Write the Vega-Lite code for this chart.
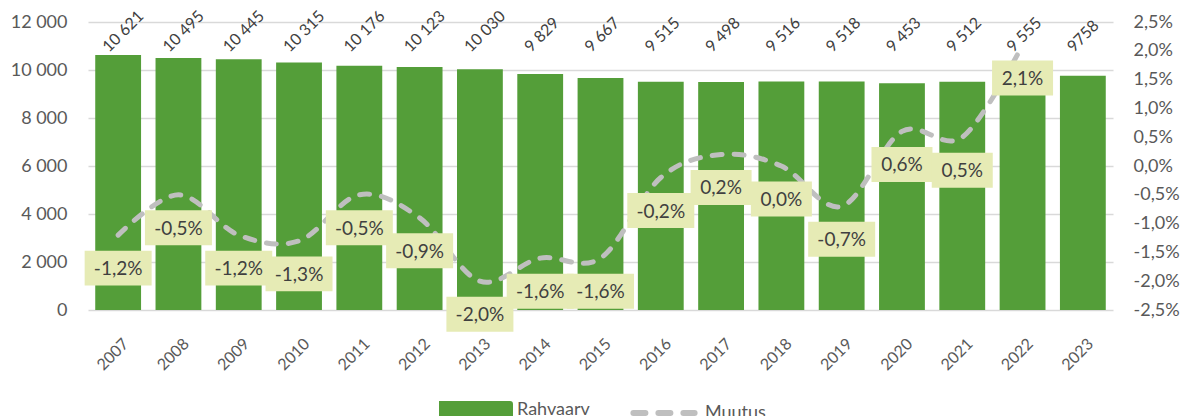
{
  "$schema": "https://vega.github.io/schema/vega-lite/v6.json",
  "width": 1025,
  "height": 288,
  "autosize": {"type": "none"},
  "padding": {"left": 88, "top": 22, "right": 76, "bottom": 106},
  "data": {
    "values": [
      {"year": "2007", "pop": 10621, "popLabel": "10 621", "change": -1.2, "chgLabel": "-1,2%"},
      {"year": "2008", "pop": 10495, "popLabel": "10 495", "change": -0.5, "chgLabel": "-0,5%"},
      {"year": "2009", "pop": 10445, "popLabel": "10 445", "change": -1.2, "chgLabel": "-1,2%"},
      {"year": "2010", "pop": 10315, "popLabel": "10 315", "change": -1.3, "chgLabel": "-1,3%"},
      {"year": "2011", "pop": 10176, "popLabel": "10 176", "change": -0.5, "chgLabel": "-0,5%"},
      {"year": "2012", "pop": 10123, "popLabel": "10 123", "change": -0.9, "chgLabel": "-0,9%"},
      {"year": "2013", "pop": 10030, "popLabel": "10 030", "change": -2.0, "chgLabel": "-2,0%"},
      {"year": "2014", "pop": 9829, "popLabel": "9 829", "change": -1.6, "chgLabel": "-1,6%"},
      {"year": "2015", "pop": 9667, "popLabel": "9 667", "change": -1.6, "chgLabel": "-1,6%"},
      {"year": "2016", "pop": 9515, "popLabel": "9 515", "change": -0.2, "chgLabel": "-0,2%"},
      {"year": "2017", "pop": 9498, "popLabel": "9 498", "change": 0.2, "chgLabel": "0,2%"},
      {"year": "2018", "pop": 9516, "popLabel": "9 516", "change": 0.0, "chgLabel": "0,0%"},
      {"year": "2019", "pop": 9518, "popLabel": "9 518", "change": -0.7, "chgLabel": "-0,7%"},
      {"year": "2020", "pop": 9453, "popLabel": "9 453", "change": 0.6, "chgLabel": "0,6%"},
      {"year": "2021", "pop": 9512, "popLabel": "9 512", "change": 0.5, "chgLabel": "0,5%"},
      {"year": "2022", "pop": 9555, "popLabel": "9 555", "change": 2.1, "chgLabel": "2,1%"},
      {"year": "2023", "pop": 9758, "popLabel": "9758", "change": null, "chgLabel": null}
    ]
  },
  "config": {
    "view": {"stroke": null},
    "font": "Lato",
    "axis": {"labelFont": "Lato", "labelColor": "#595959", "domain": false, "ticks": false}
  },
  "encoding": {
    "x": {
      "field": "year",
      "type": "ordinal",
      "title": null,
      "scale": {"paddingInner": 0.24, "paddingOuter": 0.12},
      "axis": {"labelAngle": 315, "labelAlign": "right", "labelBaseline": "middle", "labelPadding": 31, "labelOffset": 8, "labelFontSize": 16, "grid": false}
    }
  },
  "layer": [
    {
      "transform": [{"joinaggregate": [{"op": "max", "field": "pop", "as": "maxpop"}]}],
      "layer": [
        {
          "mark": {"type": "bar"},
          "encoding": {
            "y": {
              "field": "pop",
              "type": "quantitative",
              "title": null,
              "scale": {"domain": [0, 12000]},
              "axis": {
                "values": [0, 2000, 4000, 6000, 8000, 10000, 12000],
                "labelExpr": "replace(format(datum.value, ','), ',', ' ')",
                "labelFontSize": 18,
                "labelPadding": 21,
                "grid": true,
                "gridColor": "#D9D9D9",
                "gridWidth": 1.5
              }
            },
            "color": {
              "datum": "Rahvaarv",
              "scale": {"domain": ["Rahvaarv", "Muutus"], "range": ["#549E39", "#BFBFBF"]},
              "legend": {
                "orient": "none",
                "legendX": 351,
                "legendY": 351,
                "direction": "horizontal",
                "title": null,
                "symbolSize": 3844,
                "labelFont": "Lato",
                "labelFontSize": 18,
                "labelColor": "#595959",
                "labelOffset": 4,
                "columnPadding": 31,
                "encode": {
                  "symbols": {
                    "update": {
                      "shape": {"signal": "datum.value === 'Muutus' ? 'M-0.9,0H0.9' : 'M-1,-0.176H1V0.176H-1Z'"},
                      "fill": {"signal": "datum.value === 'Muutus' ? 'transparent' : '#549E39'"},
                      "stroke": {"signal": "datum.value === 'Muutus' ? '#BFBFBF' : 'transparent'"},
                      "strokeWidth": {"value": 6},
                      "strokeDash": {"signal": "datum.value === 'Muutus' ? [12, 13] : [1, 0]"},
                      "strokeCap": {"value": "round"},
                      "opacity": {"value": 1},
                      "size": {"value": 4624}
                    }
                  }
                }
              }
            }
          }
        },
        {
          "mark": {"type": "text", "align": "left", "baseline": "middle", "angle": 315, "dx": -5, "dy": -13, "fontSize": 16, "font": "Lato", "color": "#404040"},
          "encoding": {
            "y": {"field": "maxpop", "type": "quantitative", "title": null},
            "text": {"field": "popLabel"}
          }
        }
      ]
    },
    {
      "layer": [
        {
          "mark": {"type": "line", "interpolate": "cardinal", "strokeWidth": 5, "strokeDash": [10, 12], "strokeCap": "round"},
          "encoding": {
            "y": {
              "field": "change",
              "type": "quantitative",
              "title": null,
              "scale": {"domain": [-2.5, 2.5], "nice": false, "zero": false},
              "axis": {
                "orient": "right",
                "tickCount": 11,
                "values": [-2.5, -2, -1.5, -1, -0.5, 0, 0.5, 1, 1.5, 2, 2.5],
                "labelExpr": "replace(replace(format(datum.value, '.1f'), '.', ','), '\u2212', '-') + '%'",
                "labelFontSize": 18,
                "labelPadding": 20,
                "labelOverlap": false,
                "labelBound": false,
                "grid": false
              }
            },
            "color": {"datum": "Muutus"}
          }
        },
        {
          "mark": {"type": "point", "filled": true, "fill": "#E6EBB5", "strokeWidth": 0, "opacity": 1, "yOffset": 33},
          "encoding": {
            "y": {"field": "change", "type": "quantitative", "title": null, "axis": {"orient": "right", "labelOverlap": false, "tickCount": 11}},
            "shape": {"condition": {"test": "datum.change < 0", "value": "M-1,-0.522H1V0.522H-1Z"}, "value": "M-1,-0.574H1V0.574H-1Z"},
            "size": {"condition": {"test": "datum.change < 0", "value": 4489}, "value": 3721}
          }
        },
        {
          "mark": {"type": "text", "align": "center", "baseline": "middle", "yOffset": 34, "fontSize": 19, "font": "Lato", "color": "#404040"},
          "encoding": {
            "y": {"field": "change", "type": "quantitative", "title": null, "axis": {"orient": "right", "labelOverlap": false, "tickCount": 11}},
            "text": {"field": "chgLabel"}
          }
        }
      ]
    }
  ],
  "resolve": {"scale": {"y": "independent"}}
}
